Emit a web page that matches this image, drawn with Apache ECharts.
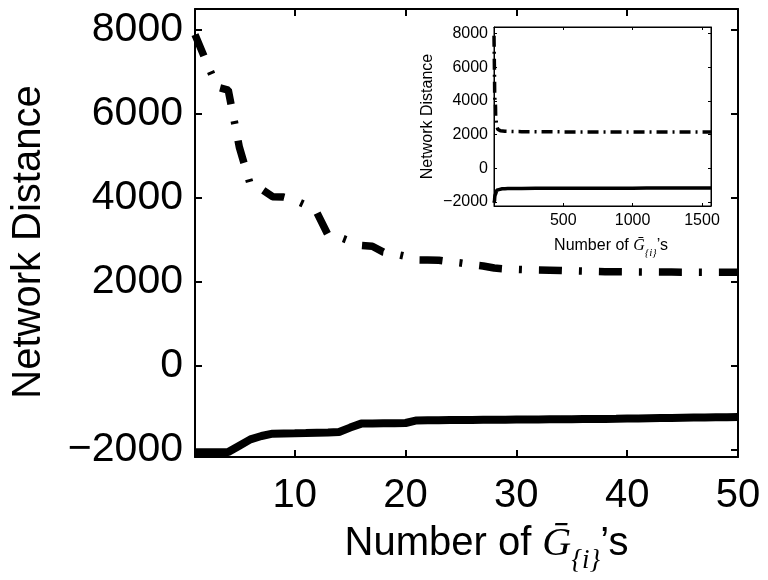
<!DOCTYPE html>
<html><head><meta charset="utf-8">
<script src="https://cdn.jsdelivr.net/npm/echarts@6/dist/echarts.min.js"></script>
<style>html,body{margin:0;padding:0;background:#fff}#c{width:768px;height:580px}</style>
</head><body><div id="c"></div>
<script>
// ---- data ----
const xMain = [1,2,3,4,5,6,7,8,9,10,11,12,13,14,15,16,17,18,19,20,21,22,23,24,25,26,27,28,29,30,31,32,33,34,35,36,37,38,39,40,41,42,43,44,45,46,47,48,49,50];
const dashDotMain = [7880,7250,6630,6560,5200,4300,4200,4020,4010,3940,3820,3640,3110,3060,2960,2860,2840,2700,2660,2600,2515,2510,2505,2470,2440,2400,2370,2320,2300,2290,2280,2272,2268,2264,2255,2248,2240,2235,2232,2230,2228,2226,2225,2224,2223,2222,2221,2220,2220,2218];
const solidMain = [-2064,-2064,-2064,-2060,-1910,-1760,-1680,-1625,-1620,-1615,-1608,-1600,-1595,-1585,-1480,-1385,-1380,-1377,-1374,-1370,-1310,-1305,-1302,-1300,-1298,-1296,-1294,-1292,-1290,-1288,-1286,-1284,-1282,-1280,-1278,-1276,-1274,-1272,-1270,-1266,-1262,-1258,-1254,-1250,-1246,-1242,-1238,-1235,-1232,-1229];
const xInsetTail = [60,80,100,150,200,300,400,500,600,700,800,900,1000,1100,1200,1300,1400,1500,1565];
const dashDotTail = [2205,2195,2190,2180,2175,2170,2165,2160,2158,2156,2155,2154,2152,2151,2150,2150,2149,2148,2148];
const solidTail = [-1222,-1217,-1213,-1207,-1203,-1198,-1195,-1193,-1191,-1190,-1189,-1188,-1187,-1186,-1186,-1185,-1185,-1184,-1184];
const yTicks = [-2000,0,2000,4000,6000,8000];
const xTicksMain = [10,20,30,40,50];
const xTicksInset = [500,1000,1500];

// ---- helpers ----
const pairs = (xs, ys) => xs.map((x, i) => [x, ys[i]]);
const fmt = v => v < 0 ? '\u2212' + (-v) : String(v);
const plain = v => String(v);
const FONT = 'Liberation Sans';
const mainDD = pairs(xMain, dashDotMain);
const mainS = pairs(xMain, solidMain);
const insetDD = mainDD.concat(pairs(xInsetTail, dashDotTail));
const insetS = mainS.concat(pairs(xInsetTail, solidTail));

const axLine = w => ({show: true, onZero: false, lineStyle: {color: '#000', width: w}});

function xNameStyle(size, sub, subLH, lh, padL) {
  return {
    fontFamily: 'Liberation Serif', fontStyle: 'italic', fontSize: sub, lineHeight: subLH, color: '#000',
    padding: [0, 0, 0, padL],
    rich: {
      a: {fontFamily: FONT, fontStyle: 'normal', fontSize: size, lineHeight: lh, verticalAlign: 'top', color: '#000'},
      g: {fontFamily: 'Liberation Serif', fontStyle: 'italic', fontSize: size, lineHeight: lh, verticalAlign: 'top', color: '#000'}
    }
  };
}
const X_NAME = '{a|Number of }{g|\u1E20}{i}{a|\u2019s}';

const chart = echarts.init(document.getElementById('c'), null, {renderer: 'canvas'});
chart.setOption({
  animation: false,
  backgroundColor: '#fff',
  grid: [
    {left: 195, top: 9, width: 543, height: 448, outerBoundsMode: 'none', containLabel: false},
    {left: 494, top: 27, width: 217, height: 179, outerBoundsMode: 'none', containLabel: false,
     show: true, backgroundColor: '#fff', borderColor: '#000', borderWidth: 1, z: 5}
  ],
  xAxis: [
    {
      gridIndex: 0, type: 'value', min: 1, max: 50, position: 'bottom',
      axisLine: axLine(2),
      axisTick: {inside: true, length: 7, customValues: xTicksMain, lineStyle: {color: '#000', width: 2}},
      axisLabel: {customValues: xTicksMain, formatter: plain, fontFamily: FONT, fontSize: 40, color: '#000', margin: 19},
      splitLine: {show: false},
      name: X_NAME, nameLocation: 'middle', nameGap: 67,
      nameTextStyle: xNameStyle(40, 27, 74, 46, 40)
    },
    {
      gridIndex: 0, type: 'value', min: 1, max: 50, position: 'top',
      axisLine: axLine(2),
      axisTick: {inside: true, length: 7, customValues: xTicksMain, lineStyle: {color: '#000', width: 2}},
      axisLabel: {show: false}, splitLine: {show: false}
    },
    {
      gridIndex: 1, type: 'value', min: 1, max: 1565, position: 'bottom', z: 6,
      axisLine: axLine(1),
      axisTick: {inside: true, length: 3, customValues: xTicksInset, lineStyle: {color: '#000', width: 1}},
      axisLabel: {customValues: xTicksInset, formatter: plain, fontFamily: FONT, fontSize: 16, color: '#000', margin: 7},
      splitLine: {show: false},
      name: X_NAME, nameLocation: 'middle', nameGap: 32,
      nameTextStyle: xNameStyle(16, 11, 31, 19, 17)
    },
    {
      gridIndex: 1, type: 'value', min: 1, max: 1565, position: 'top', z: 6,
      axisLine: axLine(1),
      axisTick: {inside: true, length: 3, customValues: xTicksInset, lineStyle: {color: '#000', width: 1}},
      axisLabel: {show: false}, splitLine: {show: false}
    }
  ],
  yAxis: [
    {
      gridIndex: 0, type: 'value', min: -2180, max: 8490, position: 'left',
      axisLine: axLine(2),
      axisTick: {inside: true, length: 7, customValues: yTicks, lineStyle: {color: '#000', width: 2}},
      axisLabel: {customValues: yTicks, formatter: fmt, fontFamily: FONT, fontSize: 41, color: '#000', margin: 12},
      splitLine: {show: false},
      name: 'Network Distance', nameLocation: 'middle', nameGap: 146,
      nameTextStyle: {fontFamily: FONT, fontSize: 40, color: '#000', padding: [0, 18, 0, 0]}
    },
    {
      gridIndex: 0, type: 'value', min: -2180, max: 8490, position: 'right',
      axisLine: axLine(2),
      axisTick: {inside: true, length: 7, customValues: yTicks, lineStyle: {color: '#000', width: 2}},
      axisLabel: {show: false}, splitLine: {show: false}
    },
    {
      gridIndex: 1, type: 'value', min: -2250, max: 8400, position: 'left', z: 6,
      axisLine: axLine(1),
      axisTick: {inside: true, length: 3, customValues: yTicks, lineStyle: {color: '#000', width: 1}},
      axisLabel: {customValues: yTicks, formatter: fmt, fontFamily: FONT, fontSize: 16, color: '#000', margin: 6},
      splitLine: {show: false},
      name: 'Network Distance', nameLocation: 'middle', nameGap: 58,
      nameTextStyle: {fontFamily: FONT, fontSize: 16, color: '#000'}
    },
    {
      gridIndex: 1, type: 'value', min: -2250, max: 8400, position: 'right', z: 6,
      axisLine: axLine(1),
      axisTick: {inside: true, length: 3, customValues: yTicks, lineStyle: {color: '#000', width: 1}},
      axisLabel: {show: false}, splitLine: {show: false}
    }
  ],
  series: [
    {type: 'line', xAxisIndex: 0, yAxisIndex: 0, data: mainDD, showSymbol: false, symbol: 'none',
     lineStyle: {color: '#000', width: 7.5, type: [23, 17, 3, 17]}},
    {type: 'line', xAxisIndex: 0, yAxisIndex: 0, data: mainS, showSymbol: false, symbol: 'none',
     lineStyle: {color: '#000', width: 8}},
    {type: 'line', xAxisIndex: 2, yAxisIndex: 2, data: insetDD, showSymbol: false, symbol: 'none', z: 7,
     lineStyle: {color: '#000', width: 3.5, type: [11, 5, 2, 5]}},
    {type: 'line', xAxisIndex: 2, yAxisIndex: 2, data: insetS, showSymbol: false, symbol: 'none', z: 7,
     lineStyle: {color: '#000', width: 3.5}}
  ]
});
</script>
</body></html>
